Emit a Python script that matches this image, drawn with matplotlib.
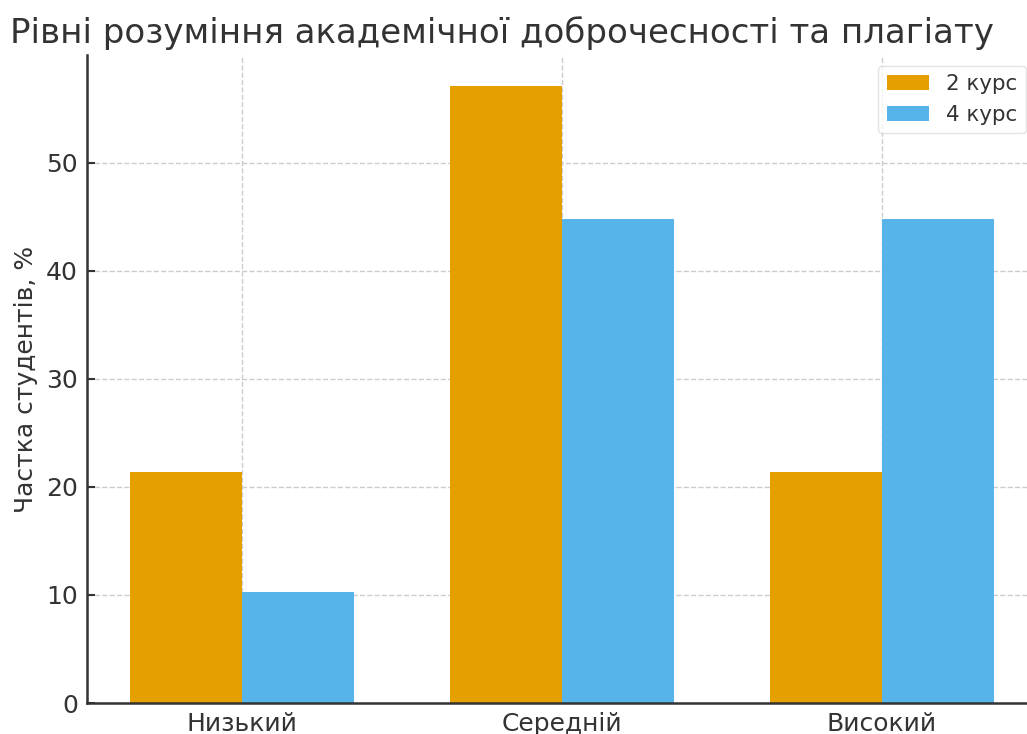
import numpy as np
import matplotlib.pyplot as plt

rivni = ['Низький', 'Середній', 'Високий']
kurs_2 = [21.4, 57.1, 21.4]
kurs_4 = [10.3, 44.8, 44.8]

fig = plt.figure(figsize=(10.27, 7.34), dpi=100)
ax = fig.add_axes([0.0847, 0.0422, 0.925, 0.883])

x = np.arange(len(rivni))
w = 0.35
ax.bar(x - w / 2, kurs_2, w, color='#E69F00', label='2 курс', zorder=2)
ax.bar(x + w / 2, kurs_4, w, color='#56B4E9', label='4 курс', zorder=2)

ax.set_xticks(x)
ax.set_xticklabels(rivni)
ax.set_xlim(-0.485, 2.485)
ax.set_ylim(0, 59.96)

ax.grid(True, linestyle='--', color='#cccccc', linewidth=1, zorder=0)
for s in ['top', 'right']:
    ax.spines[s].set_visible(False)
for s in ['left', 'bottom']:
    ax.spines[s].set_color('#333333')
    ax.spines[s].set_linewidth(1.8)

ax.tick_params(axis='both', labelsize=18, colors='#333333', direction='in',
               length=6, width=1.5, pad=6.5)
ax.set_ylabel('Частка студентів, %', fontsize=18, color='#333333', labelpad=6)
fig.text(0.489, 0.955, 'Рівні розуміння академічної доброчесності та плагіату',
         fontsize=24.5, color='#333333', ha='center', va='center')

leg = ax.legend(loc='upper right', fontsize=15.4, frameon=True)
leg.get_frame().set_edgecolor('#dddddd')
for t in leg.get_texts():
    t.set_color('#333333')

fig.savefig('out.png', dpi=100)
